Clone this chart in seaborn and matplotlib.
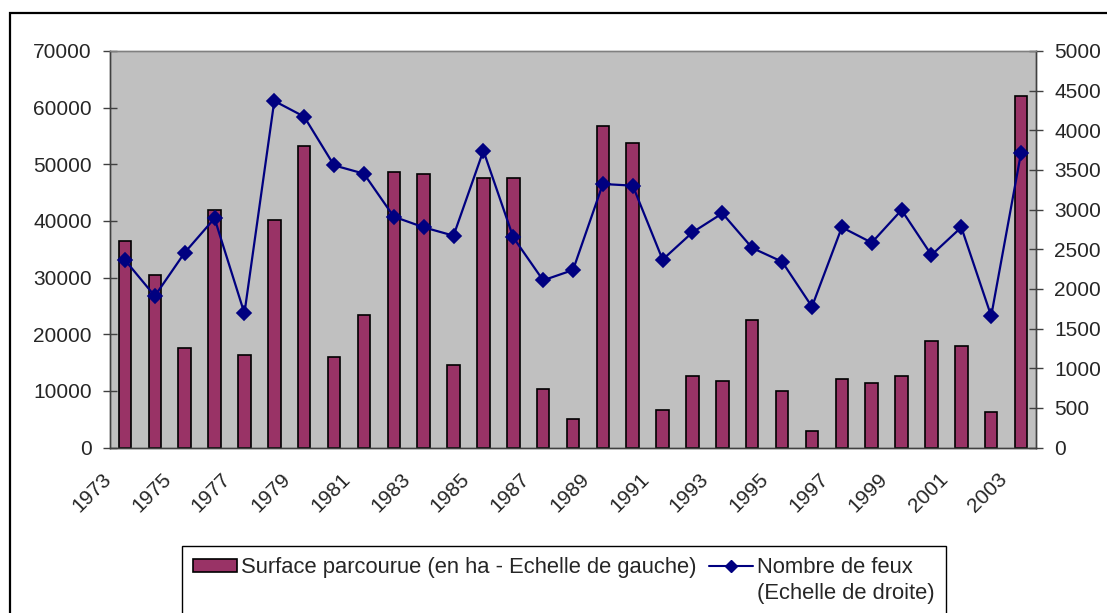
import numpy as np
import pandas as pd
import matplotlib
matplotlib.use("Agg")
import matplotlib.pyplot as plt
import matplotlib.transforms as mtransforms
from matplotlib.patches import Patch, Rectangle
from matplotlib.lines import Line2D
import seaborn as sns

years = list(range(1973, 2004))
surface = [36500, 30400, 17600, 41900, 16400, 40100, 53200, 16000, 23400, 48600,
           48300, 14600, 47500, 47500, 10300, 5100, 56800, 53800, 6700, 12700,
           11800, 22500, 10000, 3000, 12100, 11300, 12700, 18800, 18000, 6300, 62100]
fires = [2364, 1910, 2457, 2890, 1692, 4370, 4172, 3558, 3453, 2911,
         2777, 2671, 3743, 2650, 2108, 2238, 3323, 3302, 2369, 2713,
         2953, 2516, 2343, 1776, 2777, 2583, 2995, 2427, 2777, 1658, 3718]
left_ticks = [0, 10000, 20000, 30000, 40000, 50000, 60000, 70000]
right_ticks = [0, 500, 1000, 1500, 2000, 2500, 3000, 3500, 4000, 4500, 5000]
label_bar = "Surface parcourue (en ha - Echelle de gauche)"
label_line_1 = "Nombre de feux"
label_line_2 = "(Echelle de droite)"

BAR = "#993366"
LINE = "#000080"
BG = "#C0C0C0"

sns.set_style("white")
plt.rcParams["font.family"] = ["Liberation Sans", "DejaVu Sans"]

df = pd.DataFrame({"year": [str(y) for y in years], "surface": surface, "fires": fires})
n = len(years)

W, H = 1107, 613
fig = plt.figure(figsize=(W / 100, H / 100), dpi=100)
fig.patch.set_facecolor("white")
# outer chart border
fig.add_artist(Rectangle((10 / W, -0.05), 1.2, 1 - 13 / H + 0.05, transform=fig.transFigure,
                         fill=False, edgecolor="black", linewidth=1.6))

ax = fig.add_axes([110 / W, 1 - 447.5 / H, 926 / W, 396.5 / H])
ax.set_facecolor(BG)
sns.barplot(data=df, x="year", y="surface", color=BAR, width=0.42, saturation=1,
            edgecolor="black", linewidth=1.2, ax=ax)
ax.set_ylim(0, 70000)
ax.set_yticks(left_ticks)
ax.set_yticklabels([str(v) for v in left_ticks])

ax2 = ax.twinx()
sns.pointplot(data=df, x="year", y="fires", color=LINE, markers="D", errorbar=None,
              markersize=7.5, linewidth=1.6, ax=ax2)
ax2.set_ylim(0, 5000)
ax2.set_yticks(right_ticks)
ax2.set_yticklabels([str(v) for v in right_ticks])
ax.set_xlim(-0.5, n - 0.5)

for a in (ax, ax2):
    a.set_xlabel("")
    a.set_ylabel("")
    for s in a.spines.values():
        s.set_color("#404040")
        s.set_linewidth(1.0)
    a.spines["top"].set_color("#808080")

# x ticks: marks between categories, labels every other year
ax.set_xticks(np.arange(-0.5, n, 1.0))
ax.set_xticklabels([""] * len(np.arange(-0.5, n, 1.0)))
ax.set_xticks(np.arange(0, n, 2), minor=True)
ax.set_xticklabels([str(y) for y in years[::2]], minor=True)
ax.tick_params(axis="x", which="major", direction="inout", length=10, width=1, color="#404040")
ax.tick_params(axis="x", which="minor", length=0, labelsize=15, pad=16)
ax.tick_params(axis="y", direction="inout", length=10, width=1, color="#404040",
               labelsize=15, pad=8)
ax2.tick_params(axis="y", direction="inout", length=10, width=1, color="#404040",
                labelsize=15, pad=8)
ax2.tick_params(axis="x", length=0, labelbottom=False)

offset = mtransforms.ScaledTranslation(-0.10, 0, fig.dpi_scale_trans)
for lbl in ax.get_xticklabels(minor=True):
    lbl.set_rotation(45)
    lbl.set_ha("right")
    lbl.set_va("top")
    lbl.set_transform(lbl.get_transform() + offset)

blank = Line2D([], [], linestyle="none")
handles = [Patch(facecolor=BAR, edgecolor="black", linewidth=1.2), blank,
           Line2D([], [], color=LINE, marker="D", markersize=6, linewidth=1.5), blank]
labels = [label_bar, "", label_line_1, label_line_2]
leg = fig.legend(handles, labels, ncol=2, loc="upper left",
                 bbox_to_anchor=(182 / W, 1 - 546 / H), fontsize=15.8, frameon=True,
                 fancybox=False, edgecolor="black", framealpha=1, handlelength=2.0,
                 handleheight=0.55, handletextpad=0.2, columnspacing=0.55, borderpad=0.5,
                 labelspacing=0.25, borderaxespad=0)
leg.get_frame().set_linewidth(1.0)

fig.savefig("out.png", dpi=100)
